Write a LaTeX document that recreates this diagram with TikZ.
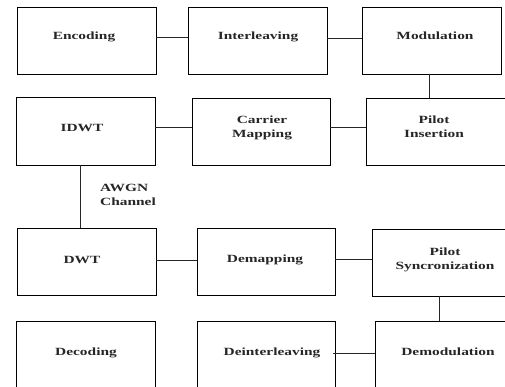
\documentclass[tikz,border=0pt]{standalone}
\usepackage{fontspec}
\setmainfont{Liberation Serif}[FakeStretch=1.4]
\begin{document}
\begin{tikzpicture}[x=1pt,y=-1pt,
  box/.style={draw=black, line width=0.9pt, rectangle, inner sep=0pt, outer sep=0pt, minimum width=139pt, minimum height=67pt},
  lbl/.style={font=\fontsize{11}{13.8}\selectfont\bfseries, text=black!85, align=center, inner sep=0pt, anchor=base},
  conn/.style={draw=black!85, line width=0.8pt}]
\useasboundingbox (0,0) rectangle (505,387);
\clip (0,0) rectangle (505,387);
% row 1
\node[box] (enc) at (86.5,40.5) {};
\node[box] (int) at (257.5,40.5) {};
\node[box] (mod) at (431.5,40.5) {};
% row 2
\node[box, minimum height=68pt] (idwt) at (85.5,131) {};
\node[box, minimum width=138pt] (cm) at (261,131.5) {};
\node[box] (pi) at (435.5,131.5) {};
% row 3
\node[box] (dwt) at (86.5,261.5) {};
\node[box, minimum width=138pt] (dem) at (266,261.5) {};
\node[box, minimum width=140pt] (ps) at (442,262.5) {};
% row 4
\node[box, minimum height=80pt] (dec) at (85.5,361) {};
\node[box, minimum width=138pt, minimum height=80pt] (dei) at (266,361) {};
\node[box, minimum width=140pt, minimum height=80pt] (demod) at (445,361) {};
% labels (positioned at their last baseline)
\node[lbl] (tenc) at (84,40) {Encoding};
\node[lbl] (tint) at (258,39.3) {Interleaving};
\node[lbl] (tmod) at (435,39.5) {Modulation};
\node[lbl] (tidwt) at (82,131.5) {IDWT};
\node[lbl] (tcm) at (262,137.7) {Carrier\\Mapping};
\node[lbl] (tpi) at (434,137.7) {Pilot\\Insertion};
\node[lbl, anchor=base west, align=left] (tawgn) at (100,205.5) {AWGN\\Channel};
\node[lbl] (tdwt) at (82,263.5) {DWT};
\node[lbl] (tdem) at (265,262) {Demapping};
\node[lbl] (tps) at (445,269) {Pilot\\Syncronization};
\node[lbl] (tdec) at (86,355) {Decoding};
\node[lbl] (tdei) at (272,355) {Deinterleaving};
\node[lbl] (tdemod) at (448,355.5) {Demodulation};
% helper coordinates for connector heights
\coordinate (y37) at (0,37);
\coordinate (y38) at (0,38);
\coordinate (y127) at (0,127);
\coordinate (y260) at (0,260);
\coordinate (y259) at (0,259);
\coordinate (y353) at (0,353);
\coordinate (x429) at (429,0);
\coordinate (x80) at (80,0);
\coordinate (x439) at (439,0);
\coordinate (dei333) at (333,353);
% connectors
\draw[conn] (enc.east |- y37) -- (int.west |- y37);
\draw[conn] (int.east |- y38) -- (mod.west |- y38);
\draw[conn] (x429 |- mod.south) -- (x429 |- pi.north);
\draw[conn] (idwt.east |- y127) -- (cm.west |- y127);
\draw[conn] (cm.east |- y127) -- (pi.west |- y127);
\draw[conn] (x80 |- idwt.south) -- (x80 |- dwt.north);
\draw[conn] (dwt.east |- y260) -- (dem.west |- y260);
\draw[conn] (dem.east |- y259) -- (ps.west |- y259);
\draw[conn] (x439 |- ps.south) -- (x439 |- demod.north);
\draw[conn] (dei333) -- (demod.west |- y353);
\end{tikzpicture}
\end{document}
